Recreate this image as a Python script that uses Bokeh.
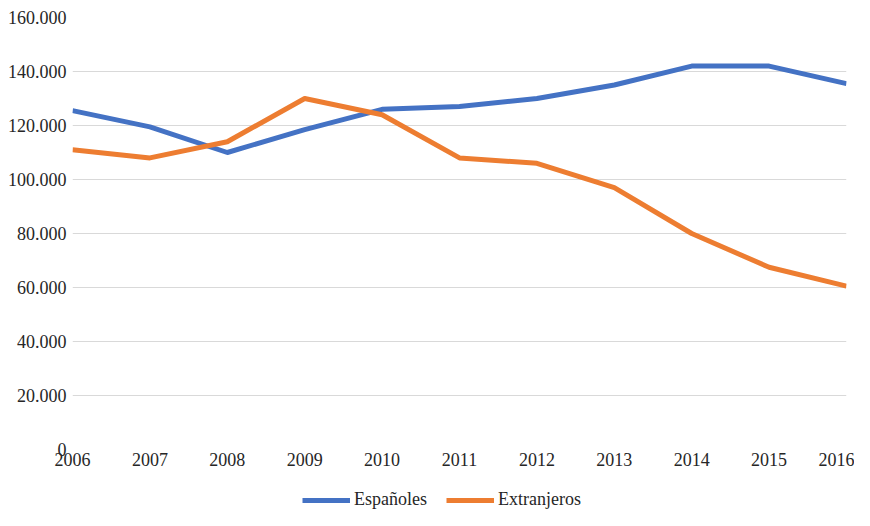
from bokeh.plotting import figure
from bokeh.layouts import column
from bokeh.models import FixedTicker, Legend, LegendItem, Range1d
from bokeh.embed import file_html
from bokeh.resources import INLINE

years = [2006, 2007, 2008, 2009, 2010, 2011, 2012, 2013, 2014, 2015, 2016]
espanoles = [125500, 119500, 110000, 118500, 126000, 127000, 130000, 135000, 142000, 142000, 135500]
extranjeros = [111000, 108000, 114000, 130000, 124000, 108000, 106000, 97000, 80000, 67500, 60500]
y_ticks = [0, 20000, 40000, 60000, 80000, 100000, 120000, 140000, 160000]
y_tick_labels = ["0", "20.000", "40.000", "60.000", "80.000", "100.000", "120.000", "140.000", "160.000"]
series_names = ["Españoles", "Extranjeros"]
colors = ["#4472C4", "#ED7D31"]

FONT = "Liberation Serif"

p = figure(width=854, height=480, output_backend="svg", toolbar_location=None,
           x_range=Range1d(2006, 2016), y_range=Range1d(0, 160000),
           min_border_left=72, min_border_right=8, min_border_top=17, min_border_bottom=31)
p.outline_line_color = None
p.background_fill_color = "white"

p.line(years, espanoles, line_width=5, color=colors[0], line_join="round")
p.line(years, extranjeros, line_width=5, color=colors[1], line_join="round")

p.xgrid.visible = False
p.ygrid.grid_line_color = "#d9d9d9"
p.ygrid.grid_line_width = 1
p.ygrid.ticker = FixedTicker(ticks=y_ticks)

p.yaxis.ticker = FixedTicker(ticks=y_ticks)
p.yaxis.major_label_overrides = {t: l for t, l in zip(y_ticks, y_tick_labels)}
p.xaxis.ticker = FixedTicker(ticks=years)
p.xaxis.major_label_overrides = {y: str(y) for y in years}

for ax in (p.xaxis[0], p.yaxis[0]):
    ax.axis_line_color = None
    ax.major_tick_line_color = None
    ax.minor_tick_line_color = None
    ax.major_tick_out = 0
    ax.major_tick_in = 0
    ax.major_label_text_font = FONT
    ax.major_label_text_font_size = "18px"
    ax.major_label_text_color = "#262626"
p.yaxis.major_label_standoff = 6
p.xaxis.major_label_standoff = 3

# legend strip below the chart (its frame is aligned with the chart's frame)
leg = figure(width=854, height=30, output_backend="svg", toolbar_location=None,
             x_range=Range1d(0, 1), y_range=Range1d(0, 1),
             x_axis_type=None, y_axis_type=None,
             min_border_left=0, min_border_right=0, min_border_top=0, min_border_bottom=0)
leg.outline_line_color = None
# off-screen sample lines that only feed the legend swatches
d1 = leg.line([5, 6], [5, 6], line_width=5, color=colors[0])
d2 = leg.line([5, 6], [5, 6], line_width=5, color=colors[1])
legend = Legend(items=[LegendItem(label=series_names[0], renderers=[d1]),
                       LegendItem(label=series_names[1], renderers=[d2])],
                orientation="horizontal", location=(230, 0),
                label_text_font=FONT, label_text_font_size="18px", label_text_color="#262626",
                glyph_width=48, glyph_height=18, label_height=18, label_standoff=4,
                spacing=19, padding=0, margin=0,
                border_line_color=None, background_fill_alpha=0)
leg.add_layout(legend, "center")

layout = column(p, leg, spacing=0)
open("out.html", "w").write(file_html(layout, INLINE))
